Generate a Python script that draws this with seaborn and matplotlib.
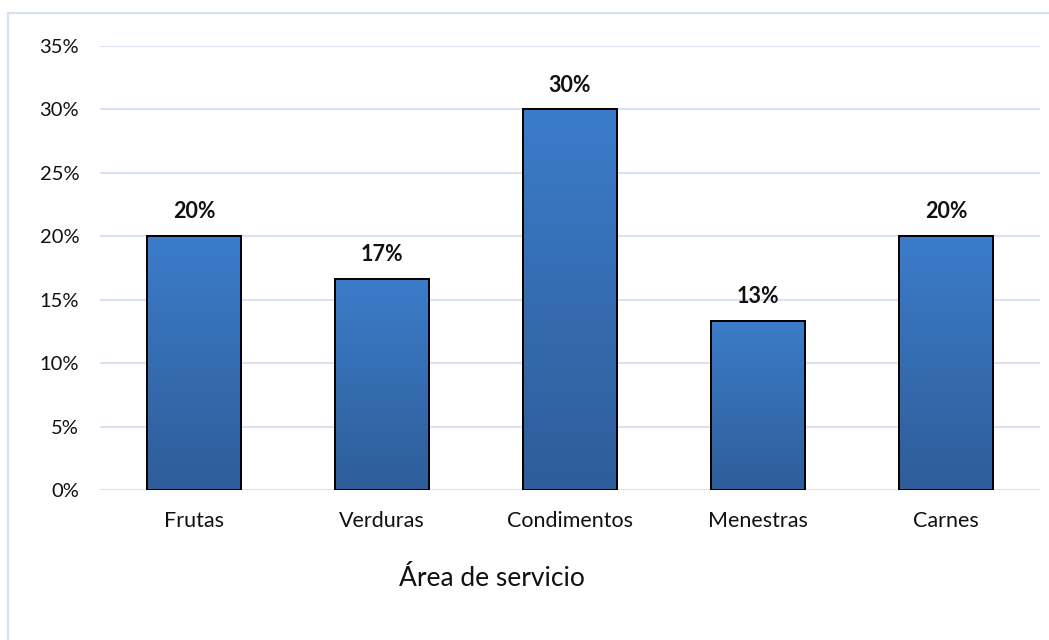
import matplotlib
matplotlib.use("Agg")
import matplotlib.pyplot as plt
from matplotlib.colors import LinearSegmentedColormap
from matplotlib.patches import Rectangle
import numpy as np
import pandas as pd
import seaborn as sns

categories = ["Frutas", "Verduras", "Condimentos", "Menestras", "Carnes"]
shares = [0.20, 0.1667, 0.30, 0.1333, 0.20]
y_ticks = [0.00, 0.05, 0.10, 0.15, 0.20, 0.25, 0.30, 0.35]
x_title = "Área de servicio"

df = pd.DataFrame({"categoria": categories, "porcentaje": shares})

sns.set_theme(style="white")
plt.rcParams["font.family"] = ["Lato", "DejaVu Sans"]

grid_color = "#D9E3F1"
fig = plt.figure(figsize=(10.49, 6.40), dpi=100)
ax = fig.add_axes([100 / 1049, 1 - 490 / 640, 940 / 1049, 444 / 640])

sns.barplot(data=df, x="categoria", y="porcentaje", ax=ax, width=0.505,
            color="#3A78C2", edgecolor="black", linewidth=1.4, zorder=3)

ax.set_ylim(0, 0.35)
ax.set_xlim(-0.5, len(categories) - 0.5)
ax.set_yticks(y_ticks)
ax.set_yticklabels([f"{v:.0%}" for v in y_ticks])
ax.yaxis.grid(True, color=grid_color, linewidth=1.5, zorder=0)
ax.set_axisbelow(True)
for s in ax.spines.values():
    s.set_visible(False)
ax.tick_params(axis="y", length=0, pad=15, labelsize=14.5, labelcolor="#111111")
ax.tick_params(axis="x", length=0, pad=15, labelsize=15.5, labelcolor="#111111")
ax.set_xlabel("")
ax.set_ylabel("")

# vertical blue gradient inside every bar
grad = LinearSegmentedColormap.from_list("barblue", ["#2E5D99", "#3B7CC9"])
ramp = np.linspace(0, 1, 256).reshape(-1, 1)
for patch in ax.patches:
    x0, y0 = patch.get_x(), patch.get_y()
    w, h = patch.get_width(), patch.get_height()
    img = ax.imshow(ramp, cmap=grad, origin="lower", aspect="auto",
                    extent=[x0, x0 + w, y0, y0 + h], zorder=3.5)
    img.set_clip_path(patch)
    ax.add_patch(Rectangle((x0, y0), w, h, fill=False, edgecolor="black",
                           linewidth=1.4, zorder=4))
    ax.annotate(f"{h:.0%}", (x0 + w / 2, h), xytext=(0, 10),
                textcoords="offset points", ha="center", va="bottom",
                fontsize=15.5, fontweight="bold", color="#111111")

ax.set_xlim(-0.5, len(categories) - 0.5)
ax.set_ylim(0, 0.35)

fig.text(492 / 1049, 1 - 578 / 640, x_title, ha="center", va="center",
         fontsize=19, color="#111111")

# light chart-area frame
fig.patches.append(Rectangle((8 / 1049, -0.1), 1.1, 1.1 - 13 / 640,
                             transform=fig.transFigure, fill=False,
                             edgecolor="#D6E2F2", linewidth=1.5))

fig.savefig("out.png", dpi=100)
